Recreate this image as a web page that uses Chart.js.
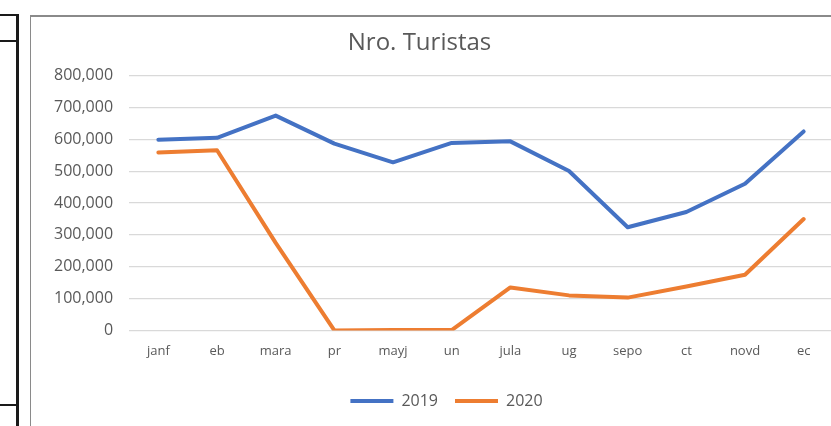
<!DOCTYPE html>
<html>
<head>
<meta charset="utf-8">
<script src="https://cdn.jsdelivr.net/npm/chart.js@4/dist/chart.umd.min.js"></script>
<style>
  body { margin: 0; width: 831px; height: 426px; overflow: hidden; background: #fff; position: relative; }
  .cell { position: absolute; background: #1a1a1a; }
  #box { position: absolute; left: 30px; top: 15px; border-left: 1px solid #8a8a8a; border-top: 2px solid #8a8a8a; }
  #box canvas { display: block; }
</style>
</head>
<body>
<!-- spreadsheet cell borders to the left of the chart -->
<div class="cell" style="left:0;top:14px;width:19px;height:2px"></div>
<div class="cell" style="left:16px;top:14px;width:3px;height:412px"></div>
<div class="cell" style="left:0;top:40px;width:17px;height:2px"></div>
<div class="cell" style="left:0;top:404px;width:17px;height:2px"></div>

<div id="box"><canvas id="chart" width="805" height="412"></canvas></div>

<script>
var months = ['janf', 'eb', 'mara', 'pr', 'mayj', 'un', 'jula', 'ug', 'sepo', 'ct', 'novd', 'ec'];
var turistas2019 = [599000, 605000, 675000, 587000, 528000, 589000, 594000, 501000, 324000, 372000, 461000, 625000];
var turistas2020 = [559000, 566000, 275000, 0, 1000, 1000, 135000, 110000, 103000, 138000, 175000, 350000];
var yMax = 800000;
var yStep = 100000;

var textColor = '#595959';
var font = "'Open Sans', sans-serif";

// Excel centres title and legend a bit differently from chart.js, nudge them
var nudge = {
    id: 'nudge',
    afterLayout: function(chart) {
        var t = chart.titleBlock;
        t.left -= 16; t.right -= 16;
        var l = chart.legend;
        l.left += 11; l.right += 11;
        l.top += 4; l.bottom += 4;
    }
};

function lineSet(label, data, color) {
    return {
        label: label,
        data: data,
        borderColor: color,
        backgroundColor: color,
        borderWidth: 4,
        borderCapStyle: 'round',
        borderJoinStyle: 'round',
        pointRadius: 0,
        tension: 0
    };
}

var chart = new Chart(document.getElementById('chart').getContext('2d'), {
    type: 'line',
    data: {
        labels: months,
        datasets: [
            lineSet('2019', turistas2019, '#4472C4'),
            lineSet('2020', turistas2020, '#ED7D31')
        ]
    },
    options: {
        responsive: false,
        animation: false,
        layout: { padding: { left: 7, right: 3, top: 0, bottom: 14 } },
        plugins: {
            title: {
                display: true,
                text: 'Nro. Turistas',
                color: textColor,
                font: { family: font, size: 24, weight: 'normal' },
                padding: { top: 12, bottom: 18 }
            },
            legend: {
                position: 'bottom',
                labels: {
                    color: textColor,
                    font: { family: font, size: 16 },
                    usePointStyle: true,
                    pointStyle: 'line',
                    pointStyleWidth: 43,
                    padding: 17
                }
            },
            tooltip: { enabled: false }
        },
        scales: {
            x: {
                offset: true,
                grid: { display: false, drawTicks: false },
                border: { display: false },
                ticks: {
                    color: textColor,
                    font: { family: font, size: 13 },
                    padding: 13,
                    maxRotation: 0,
                    autoSkip: false
                }
            },
            y: {
                min: 0,
                max: yMax,
                grid: { color: '#d9d9d9', lineWidth: 1.3, drawTicks: false },
                border: { display: false },
                ticks: {
                    stepSize: yStep,
                    color: textColor,
                    font: { family: font, size: 16 },
                    padding: 16,
                    callback: function(v) { return v.toLocaleString('en-US'); }
                }
            }
        }
    },
    plugins: [nudge]
});
</script>
</body>
</html>
